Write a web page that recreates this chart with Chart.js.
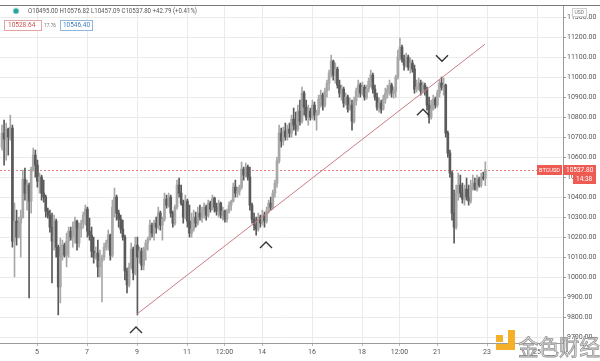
<!DOCTYPE html>
<html>
<head>
<meta charset="utf-8">
<script src="https://cdn.jsdelivr.net/npm/chart.js@4.4.0/dist/chart.umd.min.js"></script>
<style>
  html, body { margin: 0; padding: 0; background: #fff; }
  #wrap { width: 600px; height: 361px; }
</style>
</head>
<body>
<div id="wrap"><canvas id="chart" width="600" height="361"></canvas></div>
<script>
// BTCUSD, 2 hour bars, from Sep 3 (afternoon) to Sep 22
const startDay = 3.6;
const barStep = 1 / 12;

const opens = [
  10650,10720,10690,10740,10700,10745,10180,10280,10200,10270,
  10300,10490,10420,10460,10380,10540,10610,10560,10480,10500,
  10420,10400,10330,10310,10250,10180,10280,10150,9950,10100,
  10160,10110,10180,10230,10200,10250,10280,10170,10240,10270,
  10310,10340,10230,10210,10130,10100,10120,10050,10080,10100,
  10150,10170,10210,10110,10350,10400,10320,10290,10240,10200,
  10030,9960,10050,10140,10020,10160,10100,10130,10060,10140,
  10170,10190,10260,10220,10270,10250,10320,10260,10290,10390,
  10360,10400,10320,10270,10350,10460,10420,10370,10300,10380,
  10280,10220,10240,10300,10270,10320,10300,10330,10350,10310,
  10370,10340,10395,10350,10330,10370,10310,10330,10290,10330,
  10360,10380,10450,10420,10430,10450,10540,10510,10550,10500,
  10360,10290,10260,10240,10300,10270,10310,10280,10330,10370,
  10350,10420,10470,10580,10720,10680,10730,10700,10740,10720,
  10790,10760,10740,10830,10780,10920,10850,10800,10830,10800,
  10860,10810,10820,10890,10910,10860,10930,10970,11020,11080,
  11010,11040,10960,10920,10940,10870,10900,10840,10860,10780,
  10880,10930,10960,10920,10950,10900,10940,10980,11010,10940,
  10900,10850,10870,10840,10890,10920,10940,10960,10920,10930,
  11000,11100,11150,11090,11060,11100,11050,11070,11040,10940,
  10950,10970,10930,10960,10940,10860,10800,10840,10890,10860,
  10920,10970,10950,10960,10720,10620,10520,10320,10250,10420,
  10460,10420,10390,10440,10400,10380,10450,10470,10440,10490,
  10460,10500,10495
];
const highs = [
  10760,10785,10770,10745,10810,10760,10370,10335,10300,10335,
  10535,10545,10485,10470,10550,10645,10635,10585,10520,10510,
  10485,10410,10345,10335,10320,10310,10290,10160,10195,10185,
  10170,10220,10250,10250,10275,10300,10285,10270,10285,10325,
  10360,10350,10295,10250,10200,10150,10185,10135,10110,10170,
  10185,10235,10215,10385,10445,10410,10335,10310,10285,10210,
  10045,10070,10170,10150,10200,10200,10150,10145,10150,10185,
  10200,10285,10270,10285,10300,10350,10330,10300,10420,10410,
  10420,10410,10330,10360,10485,10495,10460,10385,10410,10390,
  10360,10320,10335,10325,10350,10360,10350,10370,10360,10385,
  10380,10410,10400,10370,10385,10375,10350,10335,10340,10375,
  10385,10470,10485,10450,10460,10575,10550,10570,10560,10550,
  10370,10320,10300,10320,10310,10335,10325,10350,10385,10400,
  10435,10485,10600,10760,10745,10750,10770,10760,10770,10810,
  10845,10825,10860,10885,10950,10930,10885,10860,10845,10885,
  10875,10835,10910,10935,10920,10945,10985,11035,11110,11085,
  11070,11050,10985,10960,10950,10920,10910,10895,10885,10900,
  10945,10985,10970,10975,10960,10960,10995,11035,11020,10960,
  10920,10895,10885,10910,10945,10960,10985,10970,10950,11010,
  11135,11195,11160,11110,11120,11110,11095,11085,11060,10985,
  10995,10985,10975,10970,10950,10900,10885,10910,10900,10935,
  10985,11000,10995,10965,10730,10635,10530,10435,10460,10520,
  10510,10470,10460,10495,10460,10485,10510,10495,10510,10500,
  10520,10525,10576.82
];
const lows = [
  10635,10560,10585,10610,10685,10150,10000,10160,10195,10100,
  10295,10385,10335,9895,10320,10530,10500,10450,10420,10385,
  10375,10300,10295,10225,9970,10135,10100,9810,9870,10085,
  10100,10050,10100,10185,10150,10170,10135,10150,10200,10245,
  10260,10200,10185,10100,10070,10090,10000,10000,9875,10085,
  10135,10135,10085,10100,10300,10285,10250,10220,10185,9985,
  9920,9950,10040,9985,10010,9810,10070,10035,10035,10085,
  10135,10185,10200,10185,10220,10240,10235,10185,10280,10345,
  10350,10300,10250,10260,10340,10400,10360,10270,10290,10250,
  10200,10200,10230,10250,10260,10285,10275,10295,10285,10300,
  10325,10335,10325,10310,10300,10295,10285,10275,10275,10320,
  10335,10375,10400,10400,10410,10440,10485,10500,10485,10335,
  10270,10235,10210,10230,10250,10260,10250,10270,10320,10335,
  10340,10400,10450,10570,10650,10660,10685,10685,10700,10700,
  10735,10710,10730,10760,10770,10810,10785,10760,10785,10790,
  10785,10735,10810,10850,10835,10850,10900,10935,11000,10985,
  10970,10945,10900,10885,10850,10860,10825,10835,10735,10770,
  10860,10900,10900,10910,10885,10890,10925,10950,10920,10885,
  10835,10825,10820,10835,10870,10895,10910,10900,10895,10900,
  10990,11085,11075,11035,11050,11035,11020,11025,10920,10925,
  10935,10910,10920,10910,10835,10770,10790,10835,10845,10850,
  10900,10935,10910,10700,10600,10500,10285,10170,10240,10385,
  10400,10370,10360,10385,10360,10370,10435,10435,10430,10450,
  10450,10485,10457.09
];
const closes = [
  10720,10690,10740,10700,10750,10180,10280,10200,10270,10300,
  10490,10420,10460,10380,10540,10610,10560,10480,10500,10420,
  10400,10330,10310,10250,10180,10280,10150,9950,10100,10160,
  10110,10180,10230,10200,10250,10280,10170,10240,10270,10310,
  10340,10230,10210,10130,10100,10120,10050,10080,10100,10150,
  10170,10210,10110,10350,10400,10320,10290,10240,10200,10030,
  9960,10050,10140,10020,10160,10100,10130,10060,10140,10170,
  10190,10260,10220,10270,10250,10320,10260,10290,10390,10360,
  10400,10320,10270,10350,10460,10420,10370,10300,10380,10280,
  10220,10240,10300,10270,10320,10300,10330,10350,10310,10370,
  10340,10395,10350,10330,10370,10310,10330,10290,10330,10360,
  10380,10450,10420,10430,10450,10540,10510,10550,10500,10360,
  10290,10260,10240,10300,10270,10310,10280,10330,10370,10350,
  10420,10470,10580,10720,10680,10730,10700,10740,10720,10790,
  10760,10740,10830,10780,10920,10850,10800,10830,10800,10860,
  10810,10820,10890,10910,10860,10930,10970,11020,11080,11010,
  11040,10960,10920,10940,10870,10900,10840,10860,10780,10880,
  10930,10960,10920,10950,10900,10940,10980,11010,10940,10900,
  10850,10870,10840,10890,10920,10940,10960,10920,10930,11000,
  11100,11150,11090,11060,11100,11050,11070,11040,10940,10950,
  10970,10930,10960,10940,10860,10800,10840,10890,10860,10920,
  10970,10950,10960,10720,10620,10520,10320,10250,10420,10460,
  10420,10390,10440,10400,10380,10450,10470,10440,10490,10460,
  10500,10495,10537.8
];

// time axis labels (day of month)
const tickDays = [5, 7, 9, 11, 12.5, 14, 16, 18, 19.5, 21, 23, 25];
const tickLabels = ["5", "7", "9", "11", "12:00", "14", "16", "18", "12:00", "21", "23", "25"];

// price axis labels
const priceTicks = [9700, 9800, 9900, 10000, 10100, 10200, 10300, 10400, 10500,
  10600, 10700, 10800, 10900, 11000, 11100, 11200, 11300];

// drawn trend line (day, price)
const trendDays = [9.0, 22.92];
const trendValues = [9815, 11165];

// chevron marks drawn on the chart
const markDays = [8.96, 14.16, 20.44, 21.2];
const markValues = [9735, 10160, 10825, 11095];
const markDirs = ["up", "up", "up", "down"];

const lastPrice = 10537.8;

const upColor = "#a8a8a8";
const downColor = "#5a5a5a";

const barDays = opens.map((_, i) => startDay + i * barStep);
const candleColors = opens.map((o, i) => closes[i] >= o ? upColor : downColor);

const wickData = barDays.map((d, i) => ({ x: d, y: [lows[i], highs[i]] }));
const bodyData = barDays.map((d, i) => ({ x: d, y: [opens[i], closes[i]] }));
const trendData = trendDays.map((d, i) => ({ x: d, y: trendValues[i] }));

const fontFamily = "Roboto, 'DejaVu Sans', sans-serif";

// Draws the price line, marks, labels and watermark
const overlayPlugin = {
  id: "overlay",
  beforeDatasetsDraw(chart) {
    const ctx = chart.ctx;
    const area = chart.chartArea;
    const y = chart.scales.y.getPixelForValue(lastPrice);
    ctx.save();
    ctx.strokeStyle = "#e88080";
    ctx.lineWidth = 1;
    ctx.setLineDash([2, 2]);
    ctx.beginPath();
    ctx.moveTo(area.left, Math.round(y) + 0.5);
    ctx.lineTo(area.right, Math.round(y) + 0.5);
    ctx.stroke();
    ctx.restore();
  },
  afterDraw(chart) {
    const ctx = chart.ctx;
    const xs = chart.scales.x;
    const ys = chart.scales.y;
    ctx.save();

    // top border
    ctx.strokeStyle = "#7a7a7a";
    ctx.lineWidth = 1;
    ctx.beginPath();
    ctx.moveTo(0, 5.5);
    ctx.lineTo(600, 5.5);
    ctx.stroke();

    // chevrons
    ctx.strokeStyle = "#333";
    ctx.lineWidth = 1.4;
    markDays.forEach((d, i) => {
      const px = xs.getPixelForValue(d);
      const py = ys.getPixelForValue(markValues[i]);
      const s = markDirs[i] === "up" ? 1 : -1;
      ctx.beginPath();
      ctx.moveTo(px - 6, py + 3 * s);
      ctx.lineTo(px, py - 3 * s);
      ctx.lineTo(px + 6, py + 3 * s);
      ctx.stroke();
    });

    // legend line
    ctx.fillStyle = "#26a69a";
    ctx.strokeStyle = "#bfe3df";
    ctx.lineWidth = 2;
    ctx.beginPath();
    ctx.arc(16, 11, 2.5, 0, Math.PI * 2);
    ctx.stroke();
    ctx.fill();
    ctx.font = "7px " + fontFamily;
    ctx.textBaseline = "middle";
    ctx.fillStyle = "#555";
    ctx.fillText("O10495.00 H10576.82 L10457.09 C10537.80 +42.79 (+0.41%)", 28, 11.5, 169);

    // indicator boxes
    ctx.lineWidth = 1;
    ctx.fillStyle = "#fff";
    ctx.strokeStyle = "#e3a3a3";
    ctx.fillRect(4.5, 20.5, 37, 10);
    ctx.strokeRect(4.5, 20.5, 37, 10);
    ctx.fillStyle = "#c5504c";
    ctx.font = "6.5px " + fontFamily;
    ctx.fillText("10528.64", 8, 25.8, 31);
    ctx.fillStyle = "#777";
    ctx.font = "5.5px " + fontFamily;
    ctx.fillText("17.76", 44, 25.8, 12);
    ctx.fillStyle = "#fff";
    ctx.strokeStyle = "#8fb8dc";
    ctx.fillRect(60.5, 20.5, 32, 10);
    ctx.strokeRect(60.5, 20.5, 32, 10);
    ctx.fillStyle = "#3f7dbb";
    ctx.font = "6.5px " + fontFamily;
    ctx.fillText("10546.40", 63, 25.8, 27);

    // last price tags
    const py = Math.round(ys.getPixelForValue(lastPrice));
    ctx.fillStyle = "#ee5b52";
    ctx.fillRect(537, py - 5, 25, 10);
    ctx.fillRect(563, py - 5, 33, 10);
    ctx.fillRect(573, py + 5, 23, 9);
    ctx.fillStyle = "#fff";
    ctx.font = "6px " + fontFamily;
    ctx.fillText("BTCUSD", 539, py + 0.5, 21);
    ctx.font = "6.5px " + fontFamily;
    ctx.fillText("10537.80", 566, py + 0.5, 28);
    ctx.fillText("14:38", 576, py + 9.8, 18);

    // currency tag
    ctx.fillStyle = "#fff";
    ctx.strokeStyle = "#cfcfcf";
    ctx.fillRect(572.5, 8.5, 14, 8);
    ctx.strokeRect(572.5, 8.5, 14, 8);
    ctx.fillStyle = "#777";
    ctx.font = "5px " + fontFamily;
    ctx.fillText("USD", 574.5, 12.8, 10);

    // watermark
    ctx.fillStyle = "#f5b02a";
    ctx.fillRect(496, 335, 7, 7);
    ctx.fillRect(508, 330, 7, 19);
    ctx.fillRect(496, 344, 19, 6);
    ctx.font = "22px 'Noto Sans CJK SC', sans-serif";
    ctx.textBaseline = "alphabetic";
    ctx.fillStyle = "rgba(225,225,225,0.9)";
    ctx.strokeStyle = "rgba(135,135,135,0.9)";
    ctx.lineWidth = 0.8;
    ctx.fillText("金色财经", 518, 355, 82);
    ctx.strokeText("金色财经", 518, 355, 82);

    ctx.restore();
  }
};

new Chart(document.getElementById("chart"), {
  type: "bar",
  data: {
    datasets: [
      {
        type: "line",
        data: trendData,
        borderColor: "#c97c84",
        borderWidth: 1,
        pointRadius: 0,
        order: 0
      },
      {
        data: bodyData,
        backgroundColor: candleColors,
        barThickness: 2,
        minBarLength: 1,
        grouped: false,
        order: 1
      },
      {
        data: wickData,
        backgroundColor: candleColors,
        barThickness: 1,
        grouped: false,
        order: 2
      }
    ]
  },
  options: {
    responsive: false,
    animation: false,
    devicePixelRatio: 1,
    layout: { padding: { top: 5, left: 0, right: 0, bottom: 0 } },
    plugins: { legend: { display: false }, tooltip: { enabled: false } },
    scales: {
      x: {
        type: "linear",
        offset: false,
        min: 3.52,
        max: 26.04,
        afterBuildTicks: (scale) => { scale.ticks = tickDays.map(v => ({ value: v })); },
        afterFit: (scale) => { scale.height = 18; },
        ticks: {
          autoSkip: false,
          maxRotation: 0,
          padding: 2,
          color: "#555",
          font: { size: 7, family: fontFamily },
          callback: (v, i) => tickLabels[i]
        },
        grid: { offset: false, color: "#ebebeb", tickLength: 3, tickColor: "#bbb" },
        border: { color: "#9a9a9a" }
      },
      y: {
        position: "right",
        min: 9670,
        max: 11360,
        afterBuildTicks: (scale) => { scale.ticks = priceTicks.map(v => ({ value: v })); },
        afterFit: (scale) => { scale.width = 37; },
        ticks: {
          padding: 1,
          color: "#555",
          font: { size: 7, family: fontFamily },
          callback: (v) => v.toFixed(2)
        },
        grid: { color: "#ebebeb", tickLength: 3, tickColor: "#999" },
        border: { color: "#9a9a9a" }
      }
    }
  },
  plugins: [overlayPlugin]
});
</script>
</body>
</html>
